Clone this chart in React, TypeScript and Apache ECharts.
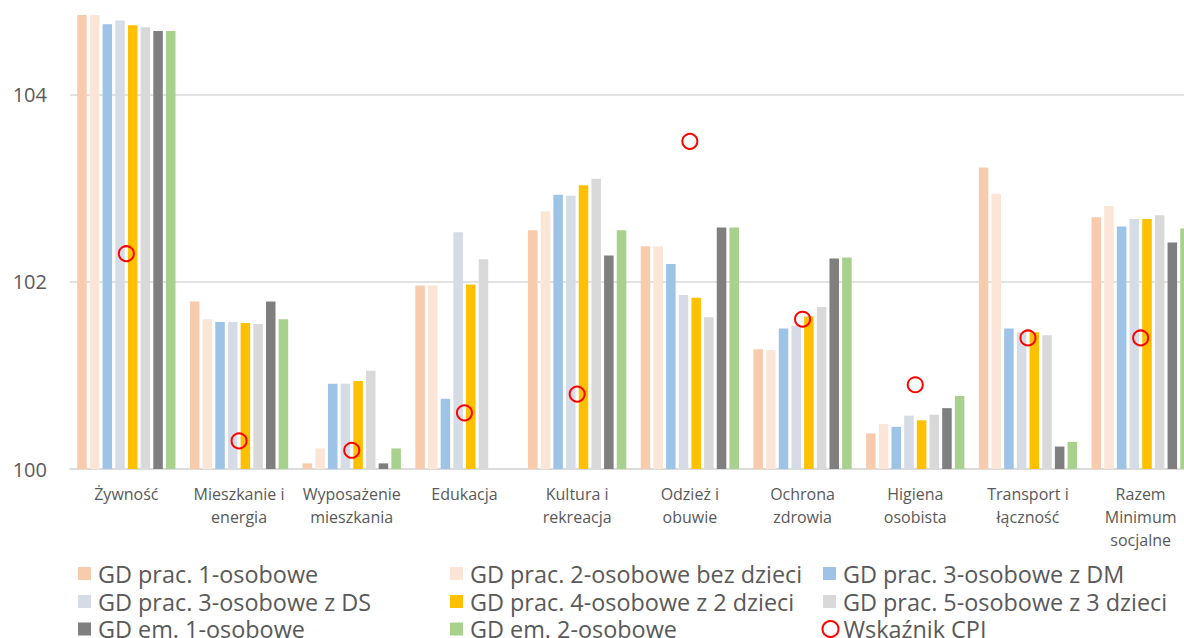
import React, { useEffect, useRef } from "react";
import * as echarts from "echarts";

const categories = [
  "Żywność",
  "Mieszkanie i\nenergia",
  "Wyposażenie\nmieszkania",
  "Edukacja",
  "Kultura i\nrekreacja",
  "Odzież i\nobuwie",
  "Ochrona\nzdrowia",
  "Higiena\nosobista",
  "Transport i\nłączność",
  "Razem\nMinimum\nsocjalne",
];

const seriesNames = [
  "GD prac. 1-osobowe",
  "GD prac. 2-osobowe bez dzieci",
  "GD prac. 3-osobowe z DM",
  "GD prac. 3-osobowe z DS",
  "GD prac. 4-osobowe z 2 dzieci",
  "GD prac. 5-osobowe z 3 dzieci",
  "GD em. 1-osobowe",
  "GD em. 2-osobowe",
];
const cpiName = "Wskaźnik CPI";

const gdPrac1 = [104.85, 101.79, 100.06, 101.96, 102.55, 102.38, 101.28, 100.38, 103.22, 102.69];
const gdPrac2 = [104.85, 101.6, 100.22, 101.96, 102.75, 102.38, 101.27, 100.48, 102.94, 102.81];
const gdPrac3DM = [104.75, 101.57, 100.91, 100.75, 102.93, 102.19, 101.5, 100.45, 101.5, 102.59];
const gdPrac3DS = [104.79, 101.57, 100.91, 102.53, 102.92, 101.86, 101.53, 100.57, 101.46, 102.67];
const gdPrac4 = [104.74, 101.56, 100.94, 101.97, 103.03, 101.83, 101.63, 100.52, 101.46, 102.67];
const gdPrac5 = [104.72, 101.55, 101.05, 102.24, 103.1, 101.62, 101.73, 100.58, 101.43, 102.71];
const gdEm1 = [104.68, 101.79, 100.06, null, 102.28, 102.58, 102.25, 100.65, 100.24, 102.42];
const gdEm2 = [104.68, 101.6, 100.22, null, 102.55, 102.58, 102.26, 100.78, 100.29, 102.57];
const cpi = [102.3, 100.3, 100.2, 100.6, 100.8, 103.5, 101.6, 100.9, 101.4, 101.4];

const barData = [gdPrac1, gdPrac2, gdPrac3DM, gdPrac3DS, gdPrac4, gdPrac5, gdEm1, gdEm2];
const colors = ["#F8CBAD", "#FBE5D6", "#9DC3E6", "#D6DCE5", "#FFC000", "#D9D9D9", "#7F7F7F", "#A9D18E"];

const FONT = "'Open Sans', sans-serif";
const TEXT = "#595959";

export default function App() {
  const ref = useRef<HTMLDivElement>(null);
  useEffect(() => {
    if (!ref.current) return;
    const chart = echarts.init(ref.current, null, { renderer: "svg" });

    const legendCols = [78, 450, 823];
    const legendRows = [562, 590, 617.5];
    const allNames = [...seriesNames, cpiName];
    const legends = allNames.map((name, i) => {
      const col = i % 3;
      const row = Math.floor(i / 3);
      const isCpi = name === cpiName;
      return {
        show: true,
        left: legendCols[col] - (isCpi ? 1.5 : 0),
        top: legendRows[row],
        padding: 0,
        itemWidth: isCpi ? 16 : 13,
        itemHeight: isCpi ? 16 : 13,
        selectedMode: false,
        data: [isCpi ? { name, icon: "circle" } : { name, icon: "rect" }],
        textStyle: {
          color: TEXT,
          fontSize: 23.4,
          lineHeight: 20,
          fontFamily: FONT,
          padding: [0, 0, 0, isCpi ? 0 : 2],
        },
      };
    });

    const series: any[] = barData.map((d, i) => ({
      type: "bar",
      name: seriesNames[i],
      data: d.map((v) => (v === null ? "-" : v)),
      itemStyle: { color: colors[i] },
      barGap: "33%",
      barCategoryGap: "12.8%",
      clip: true,
      z: 2,
    }));
    series.push({
      type: "scatter",
      name: cpiName,
      data: cpi,
      symbol: "circle",
      symbolSize: 15,
      itemStyle: { color: "rgba(0,0,0,0)", borderColor: "#FF0000", borderWidth: 2, opacity: 1 },
      z: 5,
    });

    chart.setOption({
      animation: false,
      textStyle: { fontFamily: FONT },
      grid: { left: 70, right: 0, top: 15, bottom: 169, containLabel: false },
      legend: legends,
      xAxis: {
        type: "category",
        data: categories,
        boundaryGap: true,
        axisLine: { show: true, lineStyle: { color: "#D9D9D9", width: 1.5 } },
        axisTick: { show: false },
        axisLabel: {
          interval: 0,
          color: TEXT,
          fontSize: 16,
          lineHeight: 23,
          margin: 13,
          fontFamily: FONT,
        },
      },
      yAxis: {
        type: "value",
        min: 100,
        max: 104.85,
        interval: 2,
        startValue: 100,
        axisLine: { show: false },
        axisTick: { show: false },
        axisLabel: {
          color: TEXT,
          fontSize: 20,
          margin: 23,
          fontFamily: FONT,
          showMaxLabel: false,
          formatter: (v: number) => (Math.abs(v - Math.round(v)) < 1e-6 && Math.round(v) % 2 === 0 ? String(Math.round(v)) : ""),
        },
        splitLine: { show: true, showMaxLine: false, lineStyle: { color: "#D9D9D9", width: 1.5 } },
      },
      series,
    });
    return () => chart.dispose();
  }, []);

  return (
    <div style={{ position: "fixed", left: 0, top: 0, width: 1184, height: 638, overflow: "hidden", background: "#fff" }}>
      <div ref={ref} style={{ width: 1197, height: 638 }} />
    </div>
  );
}
